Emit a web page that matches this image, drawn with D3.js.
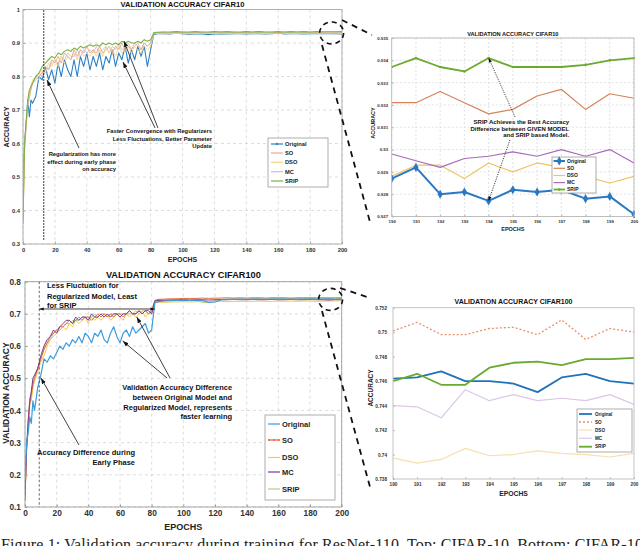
<!DOCTYPE html>
<html><head><meta charset="utf-8">
<script src="https://cdn.jsdelivr.net/npm/d3@7"></script>
<style>body{margin:0;background:#fff;}svg{display:block;font-family:"Liberation Sans",Arial,sans-serif;}</style>
</head><body><svg id="c" width="640" height="546"></svg>
<script>
// ---------------- DATA ----------------
const seriesNames = ["Original","SO","DSO","MC","SRIP"];
const epochsMain = [0,1,2,3,4,5,6,
 8,10,12,14,16,18,20,22,24,26,28,30,32,34,36,38,40,42,44,46,
 48,50,52,54,56,58,60,62,64,66,68,70,72,74,76,78,80,82,84,
 88,92,96,100,104,108,112,116,120,124,128,132,136,140,144,148,152,156,160,164,168,172,176,180,184,188,192,196,200];

// CIFAR10, full run
const c10Original = [0.50,0.60,0.66,0.73,0.68,0.73,0.72,
 0.74,0.80,0.79,0.83,0.79,0.82,0.78,0.84,0.80,0.85,0.82,0.80,0.85,0.80,0.86,0.83,0.87,0.82,0.86,0.83,
 0.87,0.82,0.86,0.84,0.88,0.83,0.87,0.85,0.89,0.84,0.88,0.85,0.89,0.86,0.89,0.83,0.88,0.925,0.928,
 0.928,0.927,0.929,0.928,0.926,0.927,0.928,0.925,0.927,0.928,0.927,0.928,0.928,0.927,0.928,0.928,0.927,0.928,0.929,0.927,0.928,0.928,0.927,0.928,0.928,0.928,0.9280,0.9281,0.9271];
const c10SO = [0.40,0.60,0.66,0.72,0.74,0.76,0.78,
 0.79,0.80,0.81,0.83,0.82,0.85,0.84,0.86,0.84,0.87,0.86,0.85,0.88,0.86,0.88,0.87,0.89,0.87,0.88,0.87,
 0.89,0.87,0.88,0.89,0.87,0.89,0.88,0.90,0.88,0.89,0.88,0.90,0.89,0.88,0.90,0.89,0.90,0.929,0.931,
 0.932,0.931,0.932,0.932,0.931,0.932,0.932,0.931,0.932,0.933,0.932,0.932,0.931,0.932,0.932,0.933,0.932,0.932,0.931,0.932,0.932,0.933,0.932,0.932,0.932,0.932,0.9326,0.9324,0.9323];
const c10DSO = [0.38,0.58,0.65,0.71,0.73,0.77,0.79,
 0.80,0.79,0.82,0.81,0.84,0.83,0.85,0.83,0.86,0.84,0.86,0.85,0.87,0.85,0.88,0.86,0.87,0.86,0.88,0.86,
 0.88,0.86,0.89,0.87,0.88,0.86,0.89,0.87,0.88,0.89,0.87,0.89,0.88,0.87,0.89,0.88,0.89,0.927,0.929,
 0.929,0.929,0.928,0.929,0.929,0.928,0.929,0.929,0.928,0.929,0.929,0.929,0.928,0.929,0.929,0.929,0.928,0.929,0.929,0.929,0.928,0.929,0.929,0.929,0.929,0.929,0.9293,0.9294,0.9288];
const c10MC = [0.37,0.59,0.66,0.72,0.75,0.77,0.78,
 0.80,0.81,0.80,0.83,0.82,0.84,0.85,0.84,0.86,0.85,0.87,0.86,0.86,0.88,0.86,0.88,0.87,0.88,0.87,0.89,
 0.87,0.88,0.89,0.87,0.89,0.88,0.90,0.88,0.89,0.90,0.88,0.89,0.90,0.88,0.90,0.89,0.90,0.928,0.929,
 0.930,0.929,0.930,0.930,0.929,0.930,0.930,0.929,0.930,0.930,0.929,0.930,0.930,0.930,0.929,0.930,0.930,0.929,0.930,0.930,0.930,0.929,0.930,0.930,0.930,0.930,0.9292,0.9297,0.9294];
const c10SRIP = [0.36,0.60,0.67,0.73,0.76,0.77,0.78,
 0.80,0.81,0.83,0.84,0.85,0.86,0.855,0.87,0.865,0.875,0.88,0.875,0.885,0.88,0.89,0.885,0.89,0.895,0.89,0.895,
 0.89,0.90,0.895,0.90,0.895,0.90,0.895,0.905,0.90,0.905,0.90,0.90,0.905,0.90,0.91,0.905,0.91,0.931,0.932,
 0.933,0.933,0.934,0.933,0.933,0.934,0.933,0.933,0.934,0.933,0.934,0.933,0.933,0.934,0.933,0.934,0.933,0.933,0.934,0.933,0.934,0.933,0.934,0.933,0.934,0.9337,0.9337,0.9337,0.9341];

// CIFAR100, full run
const c100Original = [0.18,0.30,0.33,0.38,0.36,0.43,0.40,
 0.47,0.51,0.56,0.55,0.57,0.56,0.58,0.60,0.59,0.61,0.60,0.62,0.61,0.63,0.61,0.64,0.63,0.61,0.64,0.63,
 0.65,0.62,0.61,0.64,0.66,0.63,0.61,0.64,0.65,0.63,0.66,0.64,0.65,0.66,0.67,0.64,0.65,0.735,0.738,
 0.740,0.741,0.742,0.743,0.742,0.743,0.742,0.736,0.737,0.744,0.745,0.745,0.746,0.745,0.746,0.746,0.745,0.746,0.746,0.746,0.745,0.746,0.746,0.746,0.746,0.746,0.7468,0.7451,0.7458];
const c100SO = [0.14,0.28,0.35,0.42,0.45,0.48,0.50,
 0.53,0.56,0.59,0.61,0.63,0.64,0.65,0.66,0.66,0.67,0.68,0.67,0.68,0.69,0.68,0.69,0.69,0.68,0.69,0.70,
 0.69,0.70,0.69,0.70,0.69,0.70,0.70,0.69,0.70,0.71,0.70,0.70,0.71,0.70,0.71,0.70,0.71,0.742,0.745,
 0.746,0.747,0.747,0.748,0.748,0.748,0.749,0.748,0.749,0.749,0.750,0.749,0.750,0.749,0.750,0.750,0.749,0.750,0.750,0.750,0.749,0.750,0.750,0.750,0.750,0.750,0.7498,0.7498,0.7500];
const c100DSO = [0.13,0.27,0.36,0.44,0.43,0.47,0.49,
 0.52,0.55,0.57,0.60,0.62,0.63,0.64,0.65,0.66,0.65,0.67,0.66,0.68,0.67,0.68,0.69,0.67,0.69,0.68,0.69,
 0.68,0.69,0.70,0.68,0.69,0.70,0.69,0.68,0.70,0.69,0.70,0.69,0.70,0.71,0.69,0.70,0.70,0.735,0.736,
 0.736,0.737,0.737,0.738,0.737,0.738,0.738,0.737,0.738,0.739,0.738,0.739,0.739,0.739,0.739,0.740,0.739,0.739,0.740,0.739,0.740,0.739,0.740,0.740,0.739,0.740,0.7396,0.7403,0.7401];
const c100MC = [0.12,0.28,0.37,0.43,0.46,0.50,0.51,
 0.53,0.57,0.60,0.62,0.63,0.65,0.64,0.66,0.67,0.68,0.68,0.67,0.69,0.68,0.69,0.69,0.68,0.70,0.69,0.69,
 0.70,0.69,0.70,0.69,0.70,0.70,0.69,0.70,0.70,0.71,0.70,0.70,0.71,0.70,0.71,0.71,0.70,0.740,0.742,
 0.742,0.743,0.743,0.744,0.743,0.744,0.744,0.743,0.744,0.744,0.744,0.745,0.744,0.744,0.745,0.744,0.744,0.745,0.744,0.744,0.745,0.744,0.744,0.745,0.744,0.744,0.7430,0.7444,0.7441];
const c100SRIP = [0.13,0.29,0.36,0.42,0.45,0.49,0.50,
 0.53,0.56,0.59,0.61,0.62,0.64,0.65,0.65,0.66,0.67,0.67,0.68,0.68,0.68,0.69,0.69,0.69,0.69,0.70,0.69,
 0.70,0.70,0.69,0.70,0.70,0.70,0.70,0.70,0.70,0.70,0.70,0.71,0.70,0.71,0.71,0.70,0.71,0.741,0.743,
 0.743,0.743,0.744,0.743,0.742,0.741,0.736,0.735,0.742,0.745,0.746,0.746,0.746,0.746,0.746,0.747,0.746,0.747,0.747,0.747,0.747,0.747,0.748,0.748,0.748,0.748,0.7457,0.7476,0.7479];

// zoomed epochs 190-200
const zoomEpochs = [190,191,192,193,194,195,196,197,198,199,200];
const c10zOriginal = [0.9287,0.9292,0.9280,0.9281,0.9277,0.9282,0.9281,0.9282,0.9278,0.9279,0.9271];
const c10zSO       = [0.9321,0.9321,0.9326,0.9321,0.9316,0.9318,0.9324,0.9327,0.9318,0.9325,0.9323];
const c10zDSO      = [0.9288,0.9293,0.9293,0.9287,0.9294,0.9290,0.9294,0.9292,0.9288,0.9285,0.9288];
const c10zMC       = [0.9298,0.9295,0.9292,0.9296,0.9297,0.9299,0.9297,0.9300,0.9297,0.9300,0.9294];
const c10zSRIP     = [0.9337,0.9341,0.9337,0.9335,0.9341,0.9337,0.9337,0.9337,0.9338,0.9340,0.9341];

const c100zOriginal = [0.7462,0.7463,0.7468,0.7460,0.7460,0.7458,0.7451,0.7463,0.7466,0.7460,0.7458];
const c100zSO       = [0.7501,0.7508,0.7498,0.7498,0.7503,0.7504,0.7498,0.7510,0.7494,0.7503,0.7500];
const c100zDSO      = [0.7397,0.7393,0.7396,0.7405,0.7399,0.7400,0.7403,0.7401,0.7400,0.7398,0.7401];
const c100zMC       = [0.7440,0.7439,0.7430,0.7453,0.7444,0.7449,0.7444,0.7446,0.7444,0.7449,0.7441];
const c100zSRIP     = [0.7460,0.7466,0.7457,0.7457,0.7471,0.7475,0.7476,0.7473,0.7478,0.7478,0.7479];

// tick labels
const ticksEpochMain = [0,20,40,60,80,100,120,140,160,180,200];
const ticksEpochZoom = [190,191,192,193,194,195,196,197,198,199,200];
const ticksC10Y = [0.3,0.4,0.5,0.6,0.7,0.8,0.9,1];
const ticksC10ZoomY = [0.927,0.928,0.929,0.93,0.931,0.932,0.933,0.934,0.935];
const ticksC100Y = [0.1,0.2,0.3,0.4,0.5,0.6,0.7,0.8];
const ticksC100ZoomY = [0.738,0.74,0.742,0.744,0.746,0.748,0.75,0.752];

// ---------------- DRAWING ----------------
const svg = d3.select("#c");
const defs = svg.append("defs");
function mkArrow(id, size){
  defs.append("marker").attr("id",id).attr("viewBox","0 0 10 10").attr("refX",10).attr("refY",5)
    .attr("markerWidth",size).attr("markerHeight",size).attr("markerUnits","userSpaceOnUse")
    .attr("orient","auto-start-reverse")
    .append("path").attr("d","M0,1.5 L10,5 L0,8.5 z").attr("fill","#111");
}
mkArrow("arr",6); mkArrow("arrS",4.5);
const fmt = v => String(+(+v).toFixed(4));

function panel(o){
  const x = d3.scaleLinear().domain(o.xDomain).range([o.left,o.right]);
  const y = d3.scaleLinear().domain(o.yDomain).range([o.bottom,o.top]);
  const g = svg.append("g");
  g.append("rect").attr("x",o.left).attr("y",o.top).attr("width",o.right-o.left).attr("height",o.bottom-o.top).attr("fill","#fff");
  if(o.grid){
    g.append("g").selectAll("line").data(o.xTicks).join("line")
      .attr("x1",d=>x(d)).attr("x2",d=>x(d)).attr("y1",o.top).attr("y2",o.bottom)
      .attr("stroke",o.gridColor).attr("stroke-width",0.7).attr("stroke-dasharray",o.gridDash);
    g.append("g").selectAll("line").data(o.yTicks).join("line")
      .attr("y1",d=>y(d)).attr("y2",d=>y(d)).attr("x1",o.left).attr("x2",o.right)
      .attr("stroke",o.gridColor).attr("stroke-width",0.7).attr("stroke-dasharray",o.gridDash);
  }
  const cid = "clip-"+o.id;
  defs.append("clipPath").attr("id",cid).append("rect").attr("x",o.left).attr("y",o.top-2)
    .attr("width",o.right-o.left+1).attr("height",o.bottom-o.top+4);
  const lg = g.append("g").attr("clip-path",`url(#${cid})`);
  o.series.forEach(s=>{
    const line = d3.line().x((d,i)=>x(o.epochs[i])).y(d=>y(d));
    lg.append("path").attr("d",line(s.values)).attr("fill","none").attr("stroke",s.color)
      .attr("stroke-width",s.width).attr("stroke-dasharray",s.dash||null).attr("stroke-linejoin","round");
    if(s.marker){
      lg.append("g").selectAll("path").data(s.values).join("path")
        .attr("transform",(d,i)=>`translate(${x(o.epochs[i])},${y(d)})`)
        .attr("d",d3.symbol(s.marker.type,s.marker.size)).attr("fill",s.color);
    }
  });
  g.append("rect").attr("x",o.left).attr("y",o.top).attr("width",o.right-o.left).attr("height",o.bottom-o.top)
    .attr("fill","none").attr("stroke",o.frameColor).attr("stroke-width",0.9);
  const xa = g.append("g").attr("transform",`translate(0,${o.bottom})`)
    .call(d3.axisBottom(x).tickValues(o.xTicks).tickSize(-o.tickLen).tickPadding(o.xPad).tickFormat(fmt));
  const ya = g.append("g").attr("transform",`translate(${o.left},0)`)
    .call(d3.axisLeft(y).tickValues(o.yTicks).tickSize(-o.tickLen).tickPadding(o.yPad).tickFormat(fmt));
  [xa,ya].forEach(a=>{
    a.select(".domain").remove();
    a.attr("font-family",null).attr("font-size",o.tickFont).attr("font-weight","bold");
    a.selectAll("line").attr("stroke",o.frameColor);
    a.selectAll("text").attr("fill","#333");
  });
  const cx = (o.left+o.right)/2;
  g.append("text").attr("x",cx).attr("y",o.titleY).attr("text-anchor","middle").attr("font-size",o.titleFont)
    .attr("font-weight","bold").attr("fill","#111").text(o.title);
  g.append("text").attr("x",cx).attr("y",o.xlabY).attr("text-anchor","middle").attr("font-size",o.xlabFont)
    .attr("font-weight","bold").attr("fill","#222").text("EPOCHS");
  g.append("text").attr("transform",`translate(${o.ylabX},${o.ylabCY}) rotate(-90)`).attr("text-anchor","middle")
    .attr("font-size",o.ylabFont).attr("font-weight","bold").attr("fill","#222").text(o.ylabel);
  return {x,y};
}

function legend(o){
  const g = svg.append("g");
  g.append("rect").attr("x",o.x).attr("y",o.y).attr("width",o.w).attr("height",o.h)
    .attr("fill","#fff").attr("stroke","#9a9a9a").attr("stroke-width",0.8);
  o.items.forEach((it,i)=>{
    const yy = o.rows[i];
    g.append("line").attr("x1",o.lx1).attr("x2",o.lx2).attr("y1",yy).attr("y2",yy)
      .attr("stroke",it.color).attr("stroke-width",it.width).attr("stroke-dasharray",it.dash||null);
    if(it.marker){
      (it.markerAt||[0.5]).forEach(f=>{
        g.append("path").attr("transform",`translate(${o.lx1+(o.lx2-o.lx1)*f},${yy})`)
          .attr("d",d3.symbol(it.marker.type,it.marker.size)).attr("fill",it.color);
      });
    }
    g.append("text").attr("x",o.tx).attr("y",yy).attr("dy","0.35em").attr("font-size",o.font)
      .attr("font-weight","bold").attr("fill","#222").text(it.name);
  });
}

function note(p, e, vs, lines, size, anchor){
  const t = svg.append("text").attr("font-size",size).attr("font-weight","bold").attr("fill","#111")
    .attr("text-anchor",anchor);
  lines.forEach((s,i)=>t.append("tspan").attr("x",p.x(e)).attr("y",p.y(vs[i])).text(s));
}
function arrow(p, a, b, o={}){
  const l = svg.append("line").attr("x1",p.x(a[0])).attr("y1",p.y(a[1])).attr("x2",p.x(b[0])).attr("y2",p.y(b[1]))
    .attr("stroke","#111").attr("stroke-width",o.w||0.8).attr("stroke-dasharray",o.dash||null)
    .attr("marker-end",`url(#${o.m||"arr"})`);
  if(o.both) l.attr("marker-start",`url(#${o.m||"arr"})`);
}
function ring(p, e, v, rx, ry){
  svg.append("ellipse").attr("cx",p.x(e)).attr("cy",p.y(v)).attr("rx",rx).attr("ry",ry)
    .attr("fill","none").attr("stroke","#111").attr("stroke-width",1.6).attr("stroke-dasharray","5,4");
}
function connector(x1,y1,x2,y2){
  svg.append("line").attr("x1",x1).attr("y1",y1).attr("x2",x2).attr("y2",y2)
    .attr("stroke","#111").attr("stroke-width",1.8).attr("stroke-dasharray","6,5");
}
const vals = (names, arrs) => names.map((n,i)=>({name:n, values:arrs[i]}));

// ---- Panel 1: CIFAR10 full ----
const st1 = {Original:{color:"#2c80c6",width:1.1,marker:{type:d3.symbolCircle,size:4}},
  SO:{color:"#eaa892",width:0.9}, DSO:{color:"#f3d488",width:0.9}, MC:{color:"#cbc0cf",width:0.9},
  SRIP:{color:"#7cb342",width:1.1}};
const d1 = {Original:c10Original,SO:c10SO,DSO:c10DSO,MC:c10MC,SRIP:c10SRIP};
const p1 = panel({id:"p1",left:23,right:342,top:9.5,bottom:244,xDomain:[0,200],yDomain:[0.3,1],
  xTicks:ticksEpochMain,yTicks:ticksC10Y,epochs:epochsMain,grid:true,gridColor:"#cfcfcf",gridDash:"3,3",
  frameColor:"#a8a8a8",tickLen:2.5,xPad:3.5,yPad:3,tickFont:5.8,
  series:["Original","MC","DSO","SO","SRIP"].map(n=>({...st1[n],marker:null,values:d1[n]})),
  title:"VALIDATION ACCURACY CIFAR10",titleY:6.8,titleFont:7.6,xlabY:262,xlabFont:7,
  ylabel:"ACCURACY",ylabX:9,ylabCY:127,ylabFont:7.2});
legend({x:268,y:138,w:60,h:49,rows:[144,153,162.3,171.7,181],lx1:271,lx2:283,tx:285,font:5.7,
  items:seriesNames.map(n=>({name:n,...st1[n],width:1.2}))});
svg.append("line").attr("x1",p1.x(13)).attr("x2",p1.x(13)).attr("y1",p1.y(0.998)).attr("y2",p1.y(0.31))
  .attr("stroke","#111").attr("stroke-width",1.1).attr("stroke-dasharray","1.5,1.5");
note(p1,58.3,[0.5627,0.5388,0.5179],["Regularization has more","effect during early phase","on accuracy"],5.8,"end");
arrow(p1,[35.1,0.5866],[15.05,0.7896]);
note(p1,118.5,[0.6313,0.6084,0.5857],["Faster Convergence with Regularizers","Less Fluctuations, Better Parameter","Update"],5.8,"end");
arrow(p1,[82.8,0.6463],[62.7,0.8433]);
arrow(p1,[84.6,0.6463],[63.3,0.906]);
ring(p1,193.5,0.93,12,11);
connector(342,20,372,35);
connector(322,45,370,222);

// ---- Panel 2: CIFAR10 zoom ----
const st2 = {Original:{color:"#2a78c2",width:2,marker:{type:d3.symbolDiamond,size:24}},
  SO:{color:"#d6825a",width:1.2}, DSO:{color:"#eec463",width:1.2}, MC:{color:"#a86bb8",width:1.2},
  SRIP:{color:"#6aaa2c",width:1.8,marker:{type:d3.symbolCircle,size:5}}};
const d2 = {Original:c10zOriginal,SO:c10zSO,DSO:c10zDSO,MC:c10zMC,SRIP:c10zSRIP};
const p2 = panel({id:"p2",left:391.7,right:634,top:38,bottom:216.5,xDomain:[190,200],yDomain:[0.927,0.935],
  xTicks:ticksEpochZoom,yTicks:ticksC10ZoomY,epochs:zoomEpochs,grid:true,gridColor:"#d6d6d6",gridDash:"2,2",
  frameColor:"#b8b8b8",tickLen:2,xPad:3,yPad:3.5,tickFont:4.4,
  series:["DSO","MC","SO","SRIP","Original"].map(n=>({...st2[n],values:d2[n]})),
  title:"VALIDATION ACCURACY CIFAR10",titleY:36,titleFont:5.6,xlabY:231,xlabFont:5.5,
  ylabel:"ACCURACY",ylabX:375,ylabCY:123,ylabFont:5.5});
legend({x:552,y:157,w:44,h:36,rows:[161,168.3,175.5,182.6,189.5],lx1:553.5,lx2:565,tx:567,font:5,
  items:seriesNames.map(n=>({name:n,...st2[n]}))});
note(p2,197.32,[0.93115,0.93085,0.93055],["SRIP Achieves the Best Accuracy","Difference between GIVEN MODEL","and SRIP based Model."],6,"end");
arrow(p2,[195.09,0.93146],[194,0.9341],{dash:"1.2,1.2",w:0.8,m:"arrS"});
arrow(p2,[194.88,0.93043],[194,0.9277],{dash:"1.2,1.2",w:0.8,m:"arrS"});

// ---- Panel 3: CIFAR100 full ----
const st3 = {Original:{color:"#3b9be0",width:1.2}, SO:{color:"#e86a3c",width:1,marker:{type:d3.symbolCircle,size:3}},
  DSO:{color:"#f4c84a",width:1}, MC:{color:"#7c3a96",width:1}, SRIP:{color:"#a6d48a",width:1}};
const d3v = {Original:c100Original,SO:c100SO,DSO:c100DSO,MC:c100MC,SRIP:c100SRIP};
const p3 = panel({id:"p3",left:25,right:341.7,top:281.7,bottom:507,xDomain:[0,200],yDomain:[0.1,0.8],
  xTicks:ticksEpochMain,yTicks:ticksC100Y,epochs:epochsMain,grid:true,gridColor:"#cfcfcf",gridDash:"3,3",
  frameColor:"#9c9c9c",tickLen:2.5,xPad:3.5,yPad:4,tickFont:8.3,
  series:["SRIP","DSO","SO","MC","Original"].map(n=>({...st3[n],marker:null,values:d3v[n]})),
  title:"VALIDATION ACCURACY CIFAR100",titleY:277.5,titleFont:9.2,xlabY:529.5,xlabFont:9,
  ylabel:"VALIDATION ACCURACY",ylabX:8.5,ylabCY:393,ylabFont:8.5});
legend({x:265,y:415,w:70,h:85,rows:[424,440,457.5,472,489],lx1:268,lx2:280,tx:282,font:7.5,
  items:seriesNames.map(n=>({name:n,...st3[n],width:1.2,markerAt:[0.1,0.5,0.9]}))});
svg.append("line").attr("x1",p3.x(9)).attr("x2",p3.x(9)).attr("y1",p3.y(0.8)).attr("y2",p3.y(0.1))
  .attr("stroke","#444").attr("stroke-width",0.8).attr("stroke-dasharray","2.5,2");
note(p3,13.9,[0.7789,0.7478,0.7198],["Less Fluctuation for","Regularized Model, Least","for SRIP"],7.5,"start");
arrow(p3,[9,0.7152],[82,0.7152],{both:true,m:"arrS"});
note(p3,130.8,[0.4645,0.4334,0.4024,0.3725],["Validation Accuracy Difference","between Original Model and","Regularized Model, represents","faster learning"],7.5,"end");
arrow(p3,[89.7,0.5008],[61.7,0.6158]);
arrow(p3,[91.6,0.5008],[70.6,0.6903]);
note(p3,69.5,[0.2626,0.2315],["Accuracy Difference during","Early Phase"],7.5,"end");
arrow(p3,[34.1,0.2927],[10.1,0.5008]);
ring(p3,193,0.745,12,11);
connector(340,288,370,298);
connector(322,311,370,487);

// ---- Panel 4: CIFAR100 zoom ----
const st4 = {Original:{color:"#1f73ba",width:1.8}, SO:{color:"#e8906c",width:1.3,dash:"2,2"},
  DSO:{color:"#f7dfae",width:1.2}, MC:{color:"#dcc7e6",width:1.2}, SRIP:{color:"#69aa30",width:1.8}};
const d4 = {Original:c100zOriginal,SO:c100zSO,DSO:c100zDSO,MC:c100zMC,SRIP:c100zSRIP};
const p4 = panel({id:"p4",left:393,right:634,top:307.7,bottom:479,xDomain:[190,200],yDomain:[0.738,0.752],
  xTicks:ticksEpochZoom,yTicks:ticksC100ZoomY,epochs:zoomEpochs,grid:false,
  frameColor:"#bdbdbd",tickLen:2,xPad:3.5,yPad:6,tickFont:4.7,
  series:["DSO","MC","SO","Original","SRIP"].map(n=>({...st4[n],values:d4[n]})),
  title:"VALIDATION ACCURACY CIFAR100",titleY:304.3,titleFont:7,xlabY:495.5,xlabFont:6.8,
  ylabel:"ACCURACY",ylabX:372.5,ylabCY:388,ylabFont:6.5});
legend({x:577,y:409,w:55,h:43,rows:[414,422,430,438.3,446.7],lx1:579,lx2:592,tx:595,font:4.6,
  items:seriesNames.map(n=>({name:n,...st4[n]}))});

// caption (cut off at bottom edge)
svg.append("text").attr("x",1).attr("y",550).attr("font-family","'Liberation Serif',serif").attr("font-size",16)
  .attr("fill","#222").attr("textLength",650).attr("lengthAdjust","spacing")
  .text("Figure 1: Validation accuracy during training for ResNet-110. Top: CIFAR-10, Bottom: CIFAR-100");
</script></body></html>
